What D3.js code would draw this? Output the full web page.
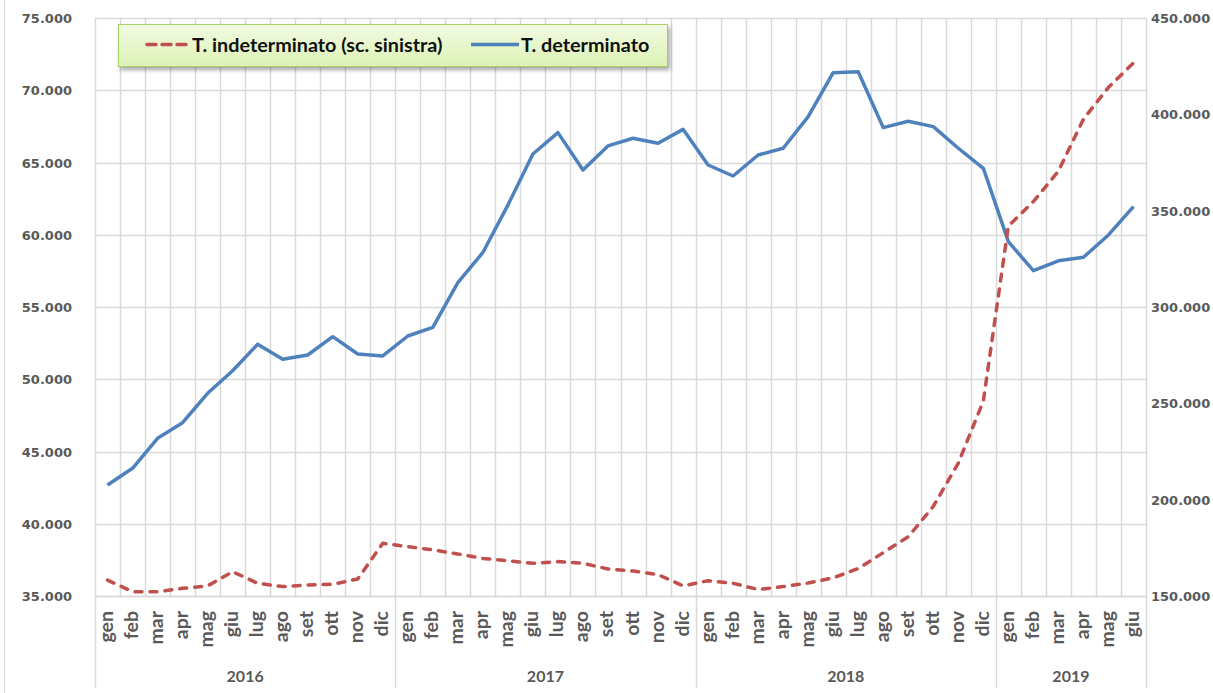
<!DOCTYPE html>
<html>
<head>
<meta charset="utf-8">
<script src="https://cdn.jsdelivr.net/npm/d3@7"></script>
<style>
  html, body { margin: 0; padding: 0; background: #fff; }
  svg { display: block; }
</style>
</head>
<body>
<svg id="chart" width="1213" height="693"></svg>
<script>
const months = ["gen","feb","mar","apr","mag","giu","lug","ago","set","ott","nov","dic",
                "gen","feb","mar","apr","mag","giu","lug","ago","set","ott","nov","dic",
                "gen","feb","mar","apr","mag","giu","lug","ago","set","ott","nov","dic",
                "gen","feb","mar","apr","mag","giu"];
const years = ["2016","2017","2018","2019"];
const yearCounts = [12, 12, 12, 6];

// T. indeterminato (left axis)
const indeterminato = [36100, 35300, 35300, 35530, 35700, 36680, 35880, 35650, 35760, 35810, 36180, 38650,
                       38420, 38190, 37910, 37600, 37440, 37260, 37380, 37260, 36870, 36730, 36480, 35700,
                       36060, 35880, 35450, 35650, 35900, 36250, 36900, 38000, 39100, 41200, 44200, 48500,
                       60600, 62300, 64400, 68000, 70200, 71900];
// T. determinato (right axis)
const determinato = [207600, 216300, 231850, 239960, 255210, 266950, 280650, 272860, 275100, 284600, 275600, 274600,
                     284950, 289450, 312600, 328300, 352900, 379400, 390500, 371100, 383600, 387600, 385000, 392200,
                     373700, 368000, 378900, 382400, 398800, 421600, 422100, 393100, 396400, 393600, 382400, 372000,
                     333900, 318850, 324000, 325800, 337400, 352100];

const leftTicks = [35000, 40000, 45000, 50000, 55000, 60000, 65000, 70000, 75000];
const rightTicks = [150000, 200000, 250000, 300000, 350000, 400000, 450000];

const svg = d3.select("#chart");
const L = 95, R = 1146, T = 18, B = 596, LB = 688;

const tickFmt = v => (v / 1000).toFixed(3);

const x = d3.scaleBand().domain(d3.range(months.length)).range([L, R]).padding(0);
const yL = d3.scaleLinear().domain([35000, 75000]).range([B, T]);
const yR = d3.scaleLinear().domain([150000, 450000]).range([B, T]);
const cx = i => x(i) + x.bandwidth() / 2;

// outer chart border (left edge visible)
svg.append("line").attr("x1", 4.5).attr("x2", 4.5).attr("y1", 0).attr("y2", 693)
  .attr("stroke", "#d9d9d9").attr("stroke-width", 1);

const grid = svg.append("g");
grid.selectAll("line.h").data(leftTicks).join("line")
  .attr("x1", L).attr("x2", R)
  .attr("y1", d => Math.round(yL(d)) + 0.5).attr("y2", d => Math.round(yL(d)) + 0.5)
  .attr("stroke", "#d9d9d9").attr("stroke-width", 1.5);
grid.selectAll("line.v").data(d3.range(1, months.length)).join("line")
  .attr("x1", d => Math.round(x(d)) + 0.5).attr("x2", d => Math.round(x(d)) + 0.5)
  .attr("y1", T).attr("y2", B)
  .attr("stroke", "#d9d9d9").attr("stroke-width", 1.5);

svg.append("line").attr("x1", L).attr("x2", R).attr("y1", B + 0.5).attr("y2", B + 0.5)
  .attr("stroke", "#d9d9d9").attr("stroke-width", 1.5);
let acc = 0;
const bounds = [0];
yearCounts.forEach(c => { acc += c; bounds.push(acc); });
svg.selectAll("line.yb").data(bounds).join("line")
  .attr("x1", d => Math.round(d === months.length ? R : x(d)) + 0.5)
  .attr("x2", d => Math.round(d === months.length ? R : x(d)) + 0.5)
  .attr("y1", d => (d === 0 || d === months.length) ? T : B).attr("y2", LB)
  .attr("stroke", "#d9d9d9").attr("stroke-width", 1.5);

// left tick labels
svg.append("g").selectAll("text").data(leftTicks).join("text")
  .attr("x", 72).attr("y", d => yL(d) + 5)
  .attr("text-anchor", "end")
  .attr("font-family", "DejaVu Sans").attr("font-weight", "bold").attr("font-size", 13)
  .attr("fill", "#595959")
  .text(d => tickFmt(d));
// right tick labels
svg.append("g").selectAll("text").data(rightTicks).join("text")
  .attr("x", 1151).attr("y", d => yR(d) + 5)
  .attr("text-anchor", "start")
  .attr("font-family", "DejaVu Sans").attr("font-weight", "bold").attr("font-size", 13)
  .attr("fill", "#595959")
  .text(d => tickFmt(d));

// month labels
svg.append("g").selectAll("text").data(months).join("text")
  .attr("transform", (d, i) => `translate(${cx(i) + 5.5},611) rotate(-90)`)
  .attr("text-anchor", "end")
  .attr("font-family", "Lato").attr("font-weight", "bold").attr("font-size", 19.5)
  .attr("fill", "#595959")
  .text(d => d);

// year labels
svg.append("g").selectAll("text").data(years).join("text")
  .attr("x", (d, i) => {
    const a = bounds[i], b = bounds[i + 1];
    const xa = x(a), xb = b === months.length ? R : x(b);
    return (xa + xb) / 2;
  })
  .attr("y", 682)
  .attr("text-anchor", "middle")
  .attr("font-family", "Lato").attr("font-weight", "bold").attr("font-size", 16)
  .attr("fill", "#595959")
  .text(d => d);

// lines
const lineL = d3.line().x((d, i) => cx(i)).y(d => yL(d));
const lineR = d3.line().x((d, i) => cx(i)).y(d => yR(d));

svg.append("path").datum(determinato)
  .attr("d", lineR).attr("fill", "none")
  .attr("stroke", "#4f81bd").attr("stroke-width", 3.5)
  .attr("stroke-linejoin", "round");

svg.append("path").datum(indeterminato)
  .attr("d", lineL).attr("fill", "none")
  .attr("stroke", "#c0504d").attr("stroke-width", 3.5)
  .attr("stroke-dasharray", "7,8").attr("stroke-linecap", "round")
  .attr("stroke-linejoin", "round");

// legend
const defs = svg.append("defs");
const grad = defs.append("linearGradient").attr("id", "lg").attr("x1", 0).attr("y1", 0).attr("x2", 0).attr("y2", 1);
grad.append("stop").attr("offset", "0%").attr("stop-color", "#f2fae3");
grad.append("stop").attr("offset", "100%").attr("stop-color", "#dcf2b4");
const filt = defs.append("filter").attr("id", "sh").attr("x", "-10%").attr("y", "-30%").attr("width", "120%").attr("height", "170%");
filt.append("feDropShadow").attr("dx", 2).attr("dy", 3).attr("stdDeviation", 2)
  .attr("flood-color", "#000").attr("flood-opacity", 0.35);

const lg = svg.append("g");
lg.append("rect").attr("x", 118.5).attr("y", 24.5).attr("width", 549).attr("height", 42)
  .attr("fill", "url(#lg)").attr("stroke", "#a9cf66").attr("stroke-width", 1)
  .attr("filter", "url(#sh)");
lg.append("line").attr("x1", 147).attr("x2", 186).attr("y1", 44.5).attr("y2", 44.5)
  .attr("stroke", "#c0504d").attr("stroke-width", 3.5)
  .attr("stroke-dasharray", "9,6").attr("stroke-linecap", "round");
lg.append("text").attr("x", 192).attr("y", 52)
  .attr("font-family", "Lato").attr("font-weight", "bold").attr("font-size", 19.8)
  .attr("fill", "#111").text("T. indeterminato (sc. sinistra)");
lg.append("line").attr("x1", 471).attr("x2", 519).attr("y1", 44.5).attr("y2", 44.5)
  .attr("stroke", "#4f81bd").attr("stroke-width", 3.5);
lg.append("text").attr("x", 521).attr("y", 52)
  .attr("font-family", "Lato").attr("font-weight", "bold").attr("font-size", 19.8)
  .attr("fill", "#111").text("T. determinato");
</script>
</body>
</html>
